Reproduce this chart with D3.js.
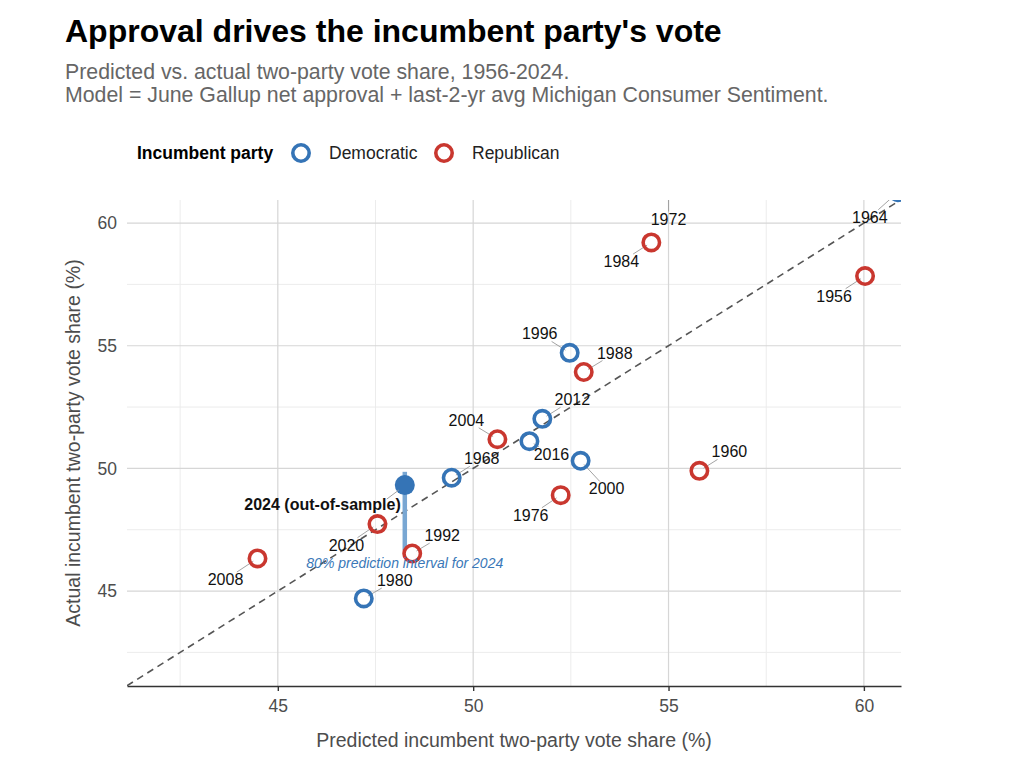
<!DOCTYPE html>
<html>
<head>
  <title>Approval drives the incumbent party's vote</title>
  <style>
    body { margin: 0; background: #fff; }
    text { font-family: "Liberation Sans", Arial, sans-serif; }
  </style>
</head>
<body>
  <svg id="svg"></svg>
  <script src="https://d3js.org/d3.v7.min.js"></script>
  <script>
    // election data
    const years = [1956, 1960, 1964, 1968, 1972, 1976, 1980, 1984, 1988, 1992, 1996, 2000, 2004, 2008, 2012, 2016, 2020];
    const party = ["Republican", "Republican", "Democratic", "Democratic", "Republican", "Republican", "Democratic", "Republican",
      "Republican", "Republican", "Democratic", "Democratic", "Republican", "Republican", "Democratic", "Democratic", "Republican"];
    const predicted = [60.03, 55.79, 60.87, 49.45, 55.0, 52.24, 47.2, 54.56, 52.83, 48.44, 52.47, 52.75, 50.62, 44.48, 51.77, 51.44, 47.55];
    const actual = [57.84, 49.9, 61.26, 49.62, 61.8, 48.91, 44.7, 59.21, 53.93, 46.53, 54.71, 50.31, 51.19, 46.33, 52.02, 51.11, 47.73];

    // 2024 out-of-sample prediction and its 80% interval
    const pred2024 = 48.25;
    const actual2024 = 49.32;
    const interval2024 = [46.67, 49.86];

    const xTicks = [45, 50, 55, 60];
    const yTicks = [45, 50, 55, 60];
    const xMinor = [42.5, 47.5, 52.5, 57.5];
    const yMinor = [42.5, 47.5, 52.5, 57.5];
    const parties = ["Democratic", "Republican"];

    // label nudges (px) so year labels sit like the repelled ones
    const labelNudge = {
      1956: [-31, 20], 1960: [30, -19], 1964: [-28, 25], 1968: [30, -19], 1972: [0, 40],
      1976: [-30, 20], 1980: [31, -18], 1984: [-30, 19], 1988: [31, -19], 1992: [30, -18],
      1996: [-30, -19], 2000: [26, 28], 2004: [-31, -19], 2008: [-32, 21], 2012: [30, -19],
      2016: [22, 13], 2020: [-31, 21]
    };

    const width = 1024, height = 768;
    const panel = { left: 127, right: 901, top: 200, bottom: 686 };

    const svg = d3.select("#svg").attr("width", width).attr("height", height);

    const xScale = d3.scaleLinear().domain([41.14, 60.95]).range([panel.left, panel.right]);
    const yScale = d3.scaleLinear().domain([41.13, 60.94]).range([panel.bottom, panel.top]);
    const color = d3.scaleOrdinal().domain(parties).range(["#3574b6", "#c9372f"]);

    const data = years.map((yr, i) => ({ year: yr, party: party[i], x: predicted[i], y: actual[i] }));

    // titles
    svg.append("text").attr("x", 65).attr("y", 42)
      .attr("font-size", 32).attr("font-weight", "bold").attr("fill", "#000")
      .text("Approval drives the incumbent party's vote");
    svg.append("text").attr("x", 65).attr("y", 79)
      .attr("font-size", 21.3).attr("fill", "#666")
      .text("Predicted vs. actual two-party vote share, 1956-2024.");
    svg.append("text").attr("x", 65).attr("y", 102)
      .attr("font-size", 21.3).attr("fill", "#666")
      .text("Model = June Gallup net approval + last-2-yr avg Michigan Consumer Sentiment.");

    // legend
    const legend = svg.append("g");
    legend.append("text").attr("x", 137).attr("y", 159)
      .attr("font-size", 17.5).attr("font-weight", "bold").attr("fill", "#000")
      .text("Incumbent party");
    const legendX = [301, 444];
    parties.forEach((p, i) => {
      legend.append("circle").attr("cx", legendX[i]).attr("cy", 153).attr("r", 8.2)
        .attr("fill", "#fff").attr("stroke", color(p)).attr("stroke-width", 3.6);
      legend.append("text").attr("x", legendX[i] + 28).attr("y", 159)
        .attr("font-size", 17.5).attr("fill", "#222").text(p);
    });

    // grid
    const grid = svg.append("g");
    grid.selectAll(".vminor").data(xMinor).join("line")
      .attr("x1", d => xScale(d)).attr("x2", d => xScale(d))
      .attr("y1", panel.top).attr("y2", panel.bottom)
      .attr("stroke", "#ececec").attr("stroke-width", 1);
    grid.selectAll(".hminor").data(yMinor).join("line")
      .attr("y1", d => yScale(d)).attr("y2", d => yScale(d))
      .attr("x1", panel.left).attr("x2", panel.right)
      .attr("stroke", "#ececec").attr("stroke-width", 1);
    grid.selectAll(".vmajor").data(xTicks).join("line")
      .attr("x1", d => xScale(d)).attr("x2", d => xScale(d))
      .attr("y1", panel.top).attr("y2", panel.bottom)
      .attr("stroke", "#d6d6d6").attr("stroke-width", 1.2);
    grid.selectAll(".hmajor").data(yTicks).join("line")
      .attr("y1", d => yScale(d)).attr("y2", d => yScale(d))
      .attr("x1", panel.left).attr("x2", panel.right)
      .attr("stroke", "#d6d6d6").attr("stroke-width", 1.2);

    // axes
    const xAxis = svg.append("g").attr("transform", `translate(0, ${panel.bottom})`)
      .call(d3.axisBottom(xScale).tickValues(xTicks).tickSize(5).tickPadding(9).tickSizeOuter(0));
    xAxis.select(".domain").attr("stroke", "#333").attr("stroke-width", 1.6);
    xAxis.selectAll(".tick line").attr("stroke", "#333").attr("stroke-width", 1.4);
    xAxis.selectAll(".tick text").attr("font-size", 17.5).attr("fill", "#4d4d4d")
      .attr("font-family", "Liberation Sans, Arial, sans-serif");

    const yAxis = svg.append("g").attr("transform", `translate(${panel.left}, 0)`)
      .call(d3.axisLeft(yScale).tickValues(yTicks).tickSize(0).tickPadding(10));
    yAxis.select(".domain").remove();
    yAxis.selectAll(".tick text").attr("font-size", 17.5).attr("fill", "#4d4d4d")
      .attr("font-family", "Liberation Sans, Arial, sans-serif");

    svg.append("text").attr("x", (panel.left + panel.right) / 2).attr("y", 747)
      .attr("text-anchor", "middle").attr("font-size", 19.5).attr("fill", "#4d4d4d")
      .text("Predicted incumbent two-party vote share (%)");
    svg.append("text")
      .attr("transform", `translate(80, ${(panel.top + panel.bottom) / 2}) rotate(-90)`)
      .attr("text-anchor", "middle").attr("font-size", 19.5).attr("fill", "#4d4d4d")
      .text("Actual incumbent two-party vote share (%)");

    // clip for the panel
    svg.append("defs").append("clipPath").attr("id", "clip")
      .append("rect").attr("x", panel.left).attr("y", panel.top)
      .attr("width", panel.right - panel.left).attr("height", panel.bottom - panel.top);

    const plot = svg.append("g").attr("clip-path", "url(#clip)");

    // 45-degree line
    const diag = xScale.domain();
    plot.append("line")
      .attr("x1", xScale(diag[0])).attr("y1", yScale(diag[0]))
      .attr("x2", xScale(diag[1])).attr("y2", yScale(diag[1]))
      .attr("stroke", "#555").attr("stroke-width", 1.6).attr("stroke-dasharray", "7,5");

    // 2024 interval + point
    plot.append("line")
      .attr("x1", xScale(pred2024)).attr("x2", xScale(pred2024))
      .attr("y1", yScale(interval2024[0])).attr("y2", yScale(interval2024[1]))
      .attr("stroke", "#79a7d3").attr("stroke-width", 4.5);

    // year labels
    const labels = svg.append("g");
    const labelNodes = labels.selectAll("text").data(data).join("text")
      .attr("x", d => xScale(d.x) + labelNudge[d.year][0])
      .attr("y", d => yScale(d.y) + labelNudge[d.year][1])
      .attr("text-anchor", "middle").attr("dy", "0.35em")
      .attr("font-size", 16).attr("fill", "#111")
      .text(d => d.year);

    // leader segments from point edge to label box edge
    const leaders = plot.insert("g", ":first-child");
    labelNodes.each(function (d) {
      const b = this.getBBox();
      const px = xScale(d.x), py = yScale(d.y);
      const cx = b.x + b.width / 2, cy = b.y + b.height / 2;
      const dx = cx - px, dy = cy - py;
      const hw = b.width / 2 + 1, hh = b.height / 2 - 1;
      const t = Math.min(hw / Math.abs(dx || 1e-6), hh / Math.abs(dy || 1e-6));
      const ex = cx - dx * t, ey = cy - dy * t;
      const len = Math.hypot(ex - px, ey - py);
      if (len < 10) return;
      const sx = px + (ex - px) * 5 / len, sy = py + (ey - py) * 5 / len;
      leaders.append("line")
        .attr("x1", sx).attr("y1", sy).attr("x2", ex).attr("y2", ey)
        .attr("stroke", "#999").attr("stroke-width", 0.9);
    });

    plot.selectAll(".pt").data(data).join("circle")
      .attr("cx", d => xScale(d.x)).attr("cy", d => yScale(d.y))
      .attr("r", 8.2).attr("fill", "none")
      .attr("stroke", d => color(d.party)).attr("stroke-width", 3.6);

    // 2024 annotations
    const p24x = xScale(pred2024), p24y = yScale(actual2024);
    svg.append("line")
      .attr("x1", p24x - 18).attr("y1", p24y + 14).attr("x2", p24x - 6).attr("y2", p24y + 5)
      .attr("stroke", "#999").attr("stroke-width", 0.9);
    plot.append("circle").attr("cx", p24x).attr("cy", p24y).attr("r", 10)
      .attr("fill", "#3574b6");
    svg.append("text").attr("x", p24x - 4).attr("y", p24y + 25)
      .attr("text-anchor", "end").attr("font-size", 16).attr("font-weight", "bold").attr("fill", "#111")
      .text("2024 (out-of-sample)");
    svg.append("text").attr("x", p24x).attr("y", yScale(interval2024[0]) + 18)
      .attr("text-anchor", "middle").attr("font-size", 14).attr("font-style", "italic").attr("fill", "#3a78b8")
      .text("80% prediction interval for 2024");
  </script>
</body>
</html>
